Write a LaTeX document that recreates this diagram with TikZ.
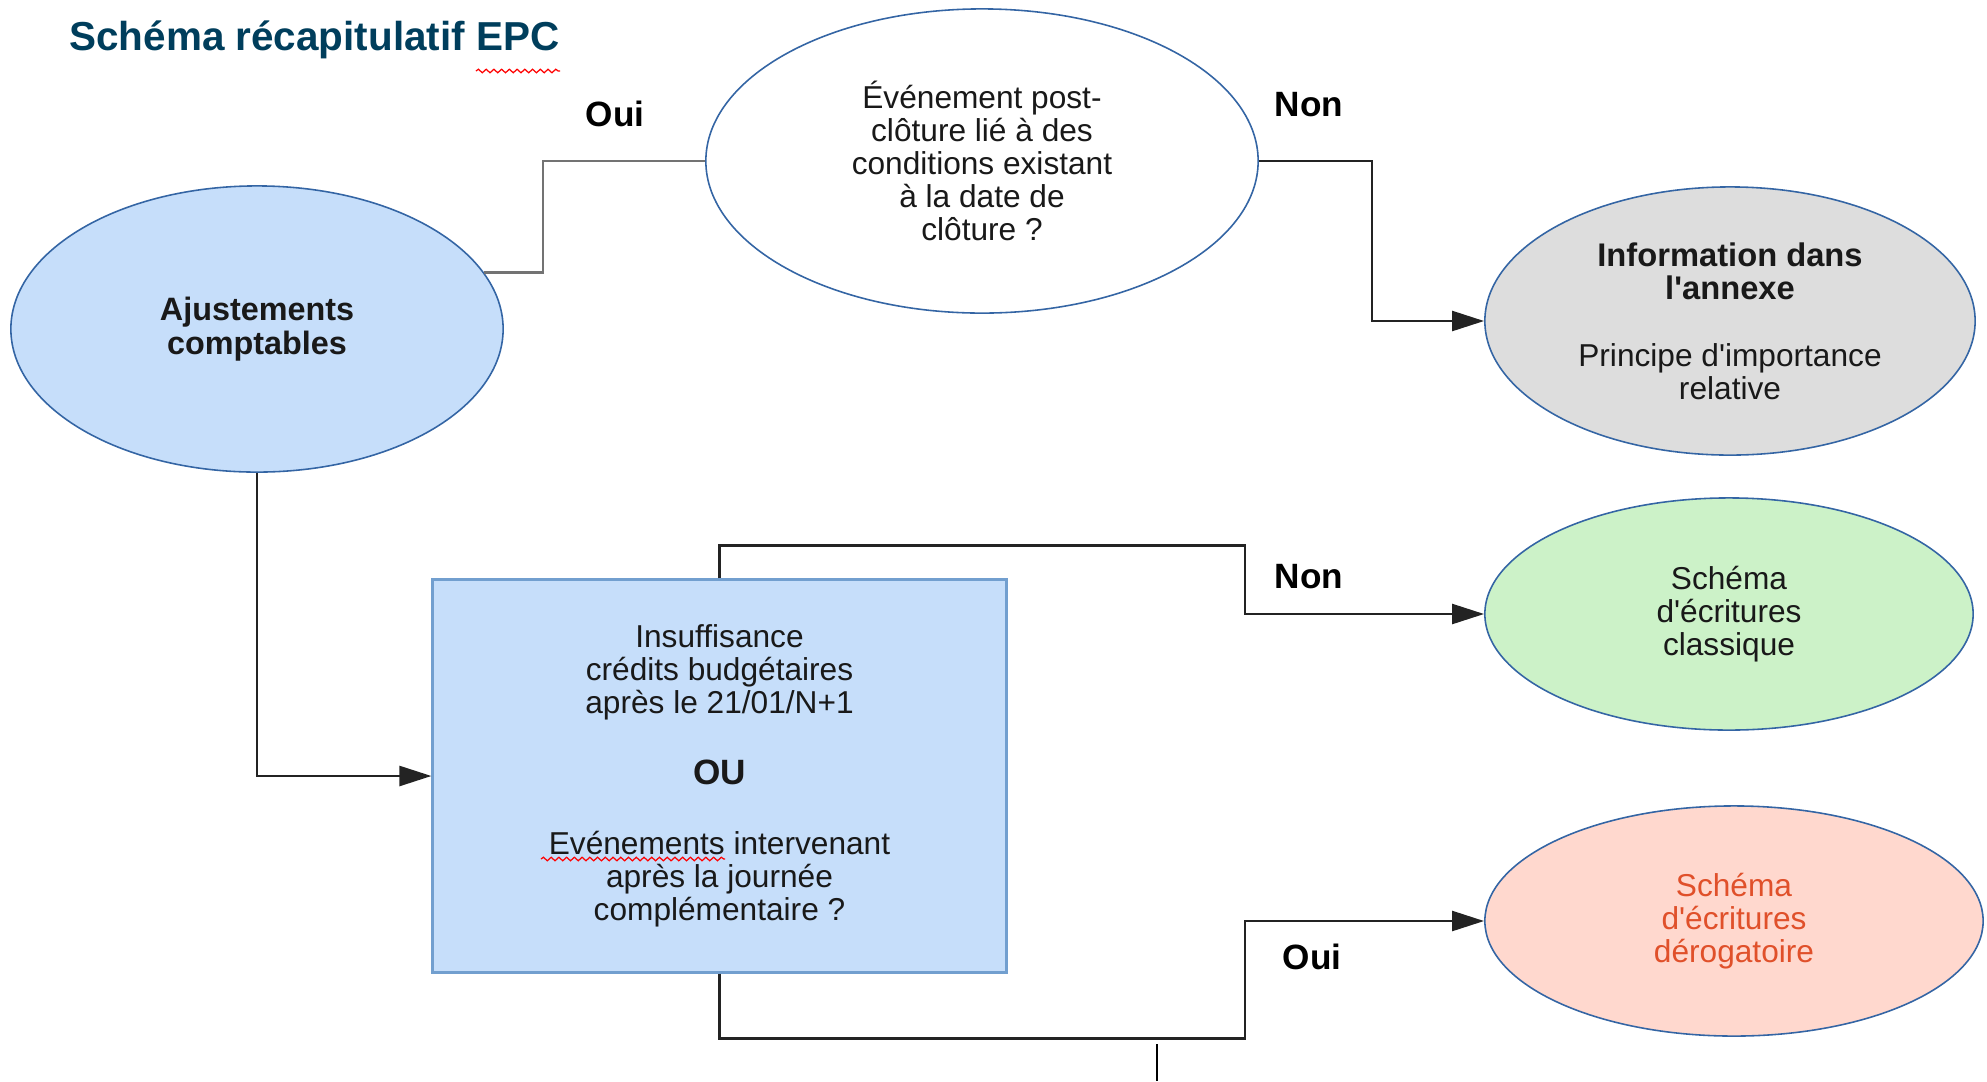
\documentclass[tikz,border=0pt]{standalone}
\usepackage{fontspec}
\setmainfont{Liberation Sans}
\usetikzlibrary{arrows.meta, shapes.geometric, decorations.pathmorphing}

\definecolor{bleuclair}{RGB}{198,222,250}
\definecolor{bordbleu}{RGB}{52,101,164}
\definecolor{bordboite}{RGB}{114,159,207}
\definecolor{grisclair}{RGB}{221,221,221}
\definecolor{vertclair}{RGB}{204,242,200}
\definecolor{saumon}{RGB}{255,216,206}
\definecolor{orangetexte}{RGB}{224,80,42}
\definecolor{titrebleu}{RGB}{0,62,92}
\definecolor{trait}{RGB}{35,35,35}

\begin{document}
\begin{tikzpicture}[x=0.01cm, y=-0.01cm,
    bulle/.style={ellipse, draw=bordbleu, line width=0.45pt, inner sep=0pt, align=center, text=black!90, font=\fontsize{9}{9.4}\selectfont},
    lien/.style={draw=trait, line width=0.7pt},
    fleche/.style={lien, -{Triangle[length=0.32cm, width=0.2cm]}},
    reponse/.style={font=\bfseries\fontsize{10}{12}\selectfont},
    souligne/.style={red, line width=0.35pt, decorate, decoration={snake, amplitude=0.5pt, segment length=2.2pt}}]
    \useasboundingbox (0,0) rectangle (1987,1081);

    % Titre
    \node[anchor=west, text=titrebleu, font=\bfseries\fontsize{11.5}{14}\selectfont] (titre) at (57,40) {Schéma récapitulatif EPC};
    \draw[souligne] (476,71) -- (560,71);

    % Bulles
    \node[bulle, fill=bleuclair, minimum width=4.92cm, minimum height=2.86cm, font=\bfseries\fontsize{9.2}{9.6}\selectfont] (ajust) at (257,329) {Ajustements\\comptables};
    \node[bulle, fill=white, minimum width=5.52cm, minimum height=3.04cm] (event) at (982,161) {Événement post-\\clôture lié à des\\conditions existant\\à la date de\\clôture ?};
    \node[bulle, fill=grisclair, minimum width=4.90cm, minimum height=2.68cm] (info) at (1730,321) {{\bfseries\fontsize{9.3}{9.4}\selectfont Information dans}\\{\bfseries\fontsize{9.3}{9.4}\selectfont l\textquotesingle annexe}\\[9.6pt]Principe d\textquotesingle importance\\relative};
    \node[bulle, fill=vertclair, minimum width=4.88cm, minimum height=2.32cm] (classic) at (1729,614) {Schéma\\d\textquotesingle écritures\\classique};
    \node[bulle, fill=saumon, minimum width=4.98cm, minimum height=2.30cm, text=orangetexte] (derog) at (1734,921) {Schéma\\d\textquotesingle écritures\\dérogatoire};

    % Boite centrale
    \node[rectangle, draw=bordboite, line width=0.8pt, fill=bleuclair, minimum width=5.73cm, minimum height=3.92cm, align=center, text=black!90, font=\fontsize{9}{9.4}\selectfont] (boite) at (719.5,776) {Insuffisance\\crédits budgétaires\\après le 21/01/N+1\\[10.6pt]{\bfseries\fontsize{10}{9.4}\selectfont OU}\\[10.6pt]Evénements intervenant\\après la journée\\complémentaire ?};
    \draw[souligne] (541,859) -- (725,859);

    % Liaisons
    \draw[lien, draw=black!55] (ajust.14.5) -- ++(59,0) |- (event.west);
    \draw[fleche] (event.east) -- ++(113,0) |- (info.west);
    \draw[fleche] (ajust.south) |- (boite.west);
    \draw[fleche] (boite.north) -- ++(0,-33) -| ([xshift=-2.39cm]classic.west) -- (classic.west);
    \draw[fleche] (boite.south) -- ++(0,65) -| ([xshift=-2.39cm]derog.west) -- (derog.west);
    \draw[line width=0.6pt] (1157,1044) -- (1157,1081);

    % Reponses
    \node[reponse] (oui1) at (615,114) {Oui};
    \node[reponse] (non1) at (1309,105) {Non};
    \node[reponse] (non2) at (1309,577) {Non};
    \node[reponse] (oui2) at (1312,957) {Oui};
\end{tikzpicture}
\end{document}
